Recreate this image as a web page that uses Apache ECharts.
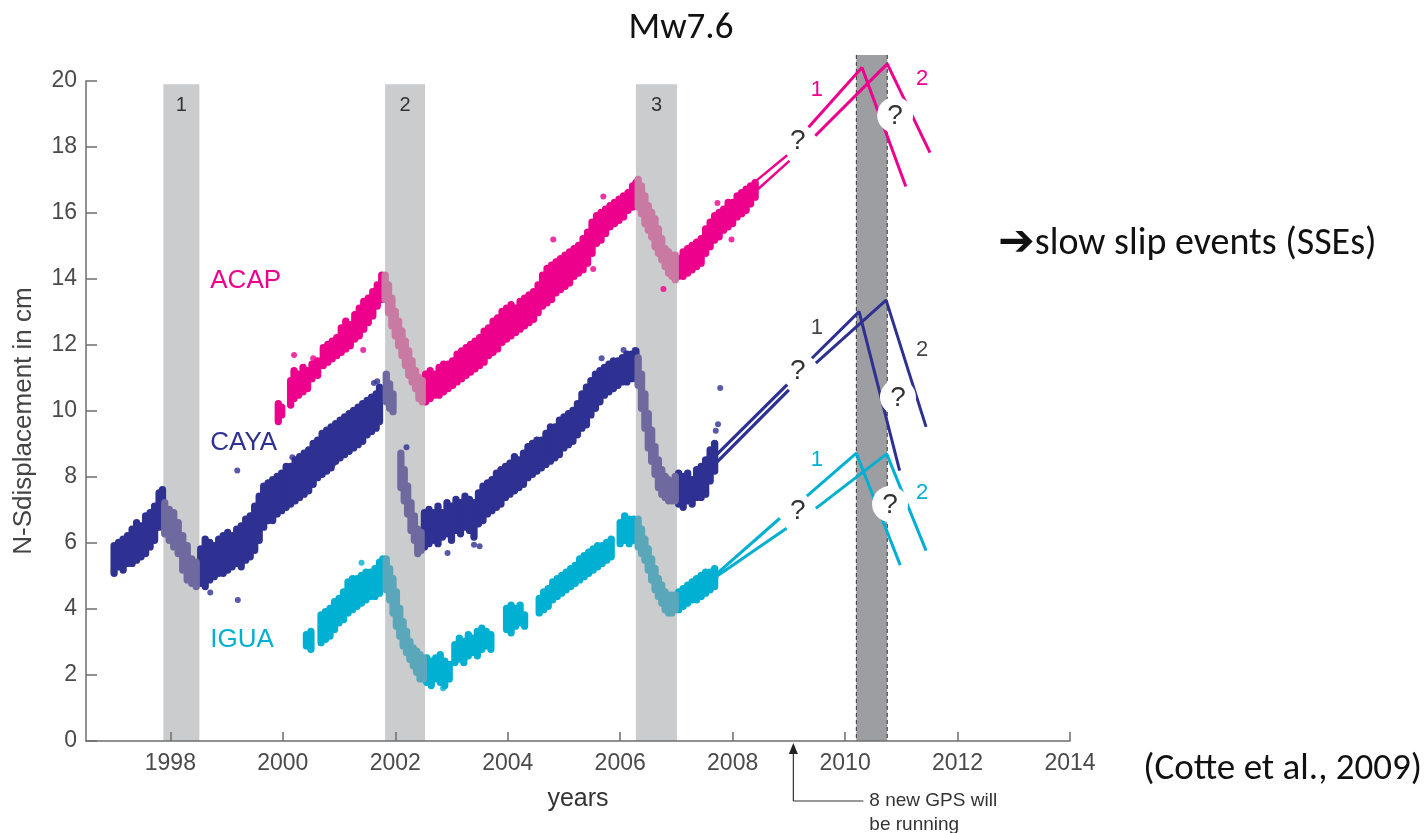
<!DOCTYPE html>
<html>
<head>
<meta charset="utf-8">
<title>N-S displacement – ACAP, CAYA, IGUA</title>
<script src="https://cdn.jsdelivr.net/npm/echarts@6/dist/echarts.min.js"></script>
<style>
  html, body { margin: 0; padding: 0; background: #fff; }
  #chart { width: 1428px; height: 833px; }
</style>
</head>
<body>
<div id="chart"></div>
<script>
// ---- axis ticks ----
const yearTicks = [1998, 2000, 2002, 2004, 2006, 2008, 2010, 2012, 2014];

// ---- slow slip windows [start, end, label] and the forecast window ----
const slipWindows = [[1997.876, 1998.516, '1'], [2001.82, 2002.53, '2'], [2006.28, 2007.01, '3']];
const forecastWindow = [[2010.20, 2010.75]];

// ---- GPS station clouds: [year, low cm, high cm] ----
const cayaTrend = [
  [1997.00,5.0,6.0],[1997.08,5.2,6.1],[1997.16,5.1,6.2],[1997.24,5.3,6.3],[1997.32,5.3,6.5],
  [1997.40,5.4,6.7],[1997.48,5.5,6.6],[1997.56,5.6,6.9],[1997.64,5.8,7.0],[1997.72,6.0,7.2],
  [1997.80,6.4,7.6],[1997.86,6.5,7.7],
  [1998.54,4.7,5.9],[1998.62,4.6,6.2],[1998.70,4.8,6.1],[1998.78,4.9,6.0],[1998.86,5.0,6.2],
  [1998.94,5.0,6.3],[1999.02,5.1,6.4],[1999.10,5.2,6.3],[1999.18,5.3,6.5],[1999.26,5.2,6.6],
  [1999.34,5.4,6.8],[1999.42,5.5,6.9],[1999.50,5.7,7.2],[1999.58,6.0,7.5],[1999.66,6.4,7.8],
  [1999.74,6.6,7.9],[1999.82,6.6,8.0],[1999.90,6.8,8.1],[1999.98,6.9,8.2],[2000.06,7.0,8.4],
  [2000.14,7.1,8.4],[2000.22,7.2,8.6],[2000.30,7.3,8.7],[2000.38,7.4,8.8],[2000.46,7.5,8.9],
  [2000.54,7.7,9.1],[2000.62,7.9,9.2],[2000.70,8.0,9.4],[2000.78,8.1,9.5],[2000.86,8.2,9.6],
  [2000.94,8.4,9.7],[2001.02,8.5,9.8],[2001.10,8.6,9.9],[2001.18,8.7,10.0],[2001.26,8.8,10.1],
  [2001.34,8.9,10.2],[2001.42,9.0,10.3],[2001.50,9.2,10.4],[2001.58,9.3,10.5],[2001.66,9.4,10.6],
  [2001.72,9.6,10.8],
  [2002.52,5.8,7.0],[2002.60,5.9,7.1],[2002.68,6.0,7.0],[2002.76,5.9,7.2],[2002.84,6.1,7.0],
  [2002.92,6.2,7.3],[2003.00,6.0,7.2],[2003.08,6.3,7.4],[2003.16,6.2,7.3],[2003.24,6.4,7.5],
  [2003.32,6.3,7.4],[2003.40,6.1,7.3],[2003.48,6.5,7.6],[2003.56,6.6,7.8],[2003.64,6.8,7.9],
  [2003.72,6.9,8.0],[2003.80,7.0,8.2],[2003.88,7.1,8.3],[2003.96,7.3,8.4],[2004.04,7.4,8.5],
  [2004.12,7.5,8.7],[2004.20,7.6,8.6],[2004.28,7.7,8.8],[2004.36,7.9,9.0],[2004.44,8.0,9.1],
  [2004.52,8.1,9.2],[2004.60,8.2,9.2],[2004.68,8.3,9.4],[2004.76,8.4,9.6],[2004.84,8.5,9.6],
  [2004.92,8.6,9.8],[2005.00,8.8,9.9],[2005.08,8.9,10.0],[2005.16,9.0,10.1],[2005.24,9.2,10.3],
  [2005.32,9.4,10.6],[2005.40,9.5,10.8],[2005.48,9.8,11.0],[2005.56,10.0,11.2],[2005.64,10.2,11.3],
  [2005.72,10.4,11.4],[2005.80,10.5,11.5],[2005.88,10.6,11.6],[2005.96,10.7,11.6],[2006.04,10.8,11.7],
  [2006.12,10.8,11.8],[2006.20,10.9,11.8],[2006.28,10.9,11.9],
  [2007.04,7.1,8.2],[2007.12,7.0,8.1],[2007.20,7.2,8.2],[2007.28,7.1,8.0],[2007.36,7.3,8.3],
  [2007.44,7.3,8.4],[2007.52,7.4,8.6],[2007.60,7.8,8.9],[2007.68,8.1,9.1]
];
const cayaSlip = [
  [1997.90,6.2,7.3],[1997.98,6.0,7.1],[1998.06,5.8,7.0],[1998.14,5.6,6.7],[1998.22,5.1,6.3],
  [1998.30,4.8,6.0],[1998.38,4.7,5.6],[1998.46,4.6,5.5],
  [2001.84,10.2,11.2],[2001.90,10.0,10.9],[2001.96,9.9,10.6],
  [2002.10,7.6,8.8],[2002.16,7.2,8.3],[2002.22,6.8,7.8],[2002.28,6.3,7.3],[2002.34,6.0,6.9],
  [2002.40,5.6,6.5],[2002.46,5.7,6.4],
  [2006.32,10.7,11.7],[2006.38,10.0,11.2],[2006.44,9.4,10.6],[2006.50,8.8,10.0],[2006.56,8.4,9.5],
  [2006.62,8.0,9.0],[2006.68,7.6,8.6],[2006.74,7.4,8.3],[2006.80,7.3,8.1],[2006.86,7.2,8.0],
  [2006.92,7.2,7.9],[2006.98,7.2,8.1]
];
const cayaSpots = [
  [1998.71,4.5],[1999.20,4.27],[1999.19,8.2],[2000.17,8.6],[2000.90,8.4],[2001.62,10.85],
  [2001.68,10.9],[2002.20,8.9],[2002.93,5.7],[2003.40,5.95],[2003.50,5.9],[2005.67,11.6],
  [2006.06,11.85],[2006.26,11.85],[2007.78,10.7],[2007.74,9.6],[2007.70,9.4]
];

const acapTrend = [
  [1999.92,9.6,10.3],[1999.98,9.8,10.2],
  [2000.14,10.1,11.0],[2000.20,10.3,11.3],[2000.28,10.4,11.2],[2000.36,10.5,11.4],[2000.44,10.6,11.3],
  [2000.52,10.9,11.5],[2000.62,11.0,11.6],[2000.72,11.3,12.0],[2000.80,11.4,12.1],[2000.88,11.5,12.2],
  [2000.96,11.6,12.3],[2001.04,11.7,12.6],[2001.12,11.8,12.8],[2001.20,11.9,12.7],[2001.28,12.1,13.0],
  [2001.36,12.2,13.2],[2001.44,12.4,13.4],[2001.52,12.6,13.5],[2001.60,12.8,13.7],[2001.68,13.1,13.9],
  [2001.76,13.3,14.2],
  [2002.54,10.2,11.2],[2002.62,10.3,11.3],[2002.70,10.4,11.2],[2002.78,10.4,11.4],[2002.86,10.5,11.5],
  [2002.94,10.6,11.5],[2003.02,10.7,11.6],[2003.10,10.8,11.8],[2003.18,10.9,11.9],[2003.26,11.0,12.0],
  [2003.34,11.1,12.1],[2003.42,11.2,12.2],[2003.50,11.3,12.3],[2003.58,11.4,12.5],[2003.66,11.6,12.6],
  [2003.74,11.7,12.8],[2003.82,11.8,12.9],[2003.90,12.0,13.1],[2003.98,12.1,13.2],[2004.06,12.2,13.3],
  [2004.14,12.3,13.2],[2004.22,12.4,13.4],[2004.30,12.5,13.5],[2004.38,12.6,13.6],[2004.46,12.7,13.7],
  [2004.54,12.9,13.9],[2004.62,13.1,14.2],[2004.70,13.2,14.4],[2004.78,13.3,14.5],[2004.86,13.5,14.6],
  [2004.94,13.6,14.7],[2005.02,13.7,14.8],[2005.10,13.8,14.9],[2005.18,14.0,15.0],[2005.26,14.1,15.1],
  [2005.34,14.2,15.3],[2005.42,14.4,15.5],[2005.50,14.7,15.8],[2005.58,15.0,16.0],[2005.66,15.1,16.1],
  [2005.74,15.3,16.2],[2005.82,15.5,16.3],[2005.90,15.6,16.4],[2005.98,15.7,16.5],[2006.06,15.8,16.6],
  [2006.14,16.0,16.7],[2006.22,16.1,16.9],[2006.28,16.2,17.0],
  [2007.04,14.0,14.7],[2007.12,14.0,14.9],[2007.20,14.1,15.0],[2007.28,14.2,15.1],[2007.36,14.3,15.2],
  [2007.44,14.4,15.3],[2007.52,14.7,15.6],[2007.60,14.9,15.8],[2007.68,15.1,16.0],[2007.76,15.2,16.1],
  [2007.84,15.4,16.2],[2007.92,15.5,16.4],[2008.00,15.6,16.4],[2008.08,15.8,16.6],[2008.16,15.9,16.7],
  [2008.24,16.0,16.8],[2008.32,16.2,16.9],[2008.40,16.4,17.0]
];
const acapSlip = [
  [2001.82,13.3,14.2],[2001.88,12.9,13.9],[2001.94,12.5,13.5],[2002.00,12.2,13.1],[2002.06,11.9,12.8],
  [2002.12,11.6,12.5],[2002.18,11.3,12.2],[2002.24,11.0,11.9],[2002.30,10.8,11.6],[2002.36,10.6,11.3],
  [2002.42,10.3,11.1],[2002.48,10.2,11.0],
  [2006.32,16.1,17.1],[2006.38,15.9,16.9],[2006.44,15.6,16.6],[2006.50,15.4,16.3],[2006.56,15.2,16.1],
  [2006.62,14.9,15.9],[2006.68,14.7,15.6],[2006.74,14.5,15.3],[2006.80,14.3,15.0],[2006.86,14.1,14.9],
  [2006.92,14.0,14.8],[2006.98,13.9,14.8]
];
const acapSpots = [
  [2000.20,11.7],[2000.54,11.6],[2001.43,11.85],[2004.81,15.2],[2005.52,14.3],[2005.70,16.5],
  [2006.77,13.7],[2007.73,16.3],[2007.98,15.2]
];

const iguaTrend = [
  [2000.42,2.8,3.3],[2000.50,2.7,3.4],
  [2000.68,2.9,3.9],[2000.76,3.0,4.0],[2000.84,3.1,4.1],[2000.92,3.3,4.3],[2001.00,3.5,4.4],
  [2001.08,3.6,4.6],[2001.16,3.8,4.9],[2001.24,3.9,5.0],[2001.32,4.0,5.0],[2001.40,4.1,5.1],
  [2001.48,4.2,5.2],[2001.56,4.3,5.2],[2001.64,4.3,5.3],[2001.72,4.4,5.5],[2001.78,4.6,5.6],
  [2002.56,1.7,2.6],[2002.64,1.6,2.5],[2002.72,1.8,2.6],[2002.80,1.7,2.7],[2002.88,1.6,2.5],
  [2002.96,1.8,2.4],
  [2003.06,2.3,3.0],[2003.14,2.4,3.2],[2003.22,2.3,3.1],[2003.30,2.5,3.3],[2003.38,2.6,3.2],
  [2003.46,2.5,3.4],[2003.54,2.7,3.5],[2003.62,2.8,3.4],[2003.70,2.7,3.3],
  [2003.98,3.3,4.1],[2004.06,3.2,4.2],[2004.14,3.4,4.1],[2004.22,3.5,4.2],[2004.30,3.4,3.9],
  [2004.56,3.8,4.4],[2004.64,3.9,4.6],[2004.72,4.0,4.7],[2004.80,4.2,4.9],[2004.88,4.3,5.0],
  [2004.96,4.4,5.1],[2005.04,4.5,5.2],[2005.12,4.6,5.3],[2005.20,4.7,5.4],[2005.28,4.8,5.6],
  [2005.36,4.9,5.7],[2005.44,5.0,5.8],[2005.52,5.1,5.9],[2005.60,5.2,6.0],[2005.68,5.3,6.0],
  [2005.76,5.4,6.1],[2005.84,5.5,6.2],
  [2006.00,5.9,6.7],[2006.08,6.0,6.9],[2006.16,5.9,6.8],[2006.24,6.0,6.8],
  [2007.04,3.9,4.6],[2007.12,4.0,4.7],[2007.20,4.1,4.8],[2007.28,4.2,4.9],[2007.36,4.2,5.0],
  [2007.44,4.3,5.1],[2007.52,4.4,5.2],[2007.60,4.5,5.2],[2007.68,4.6,5.3]
];
const iguaSlip = [
  [2001.84,4.5,5.6],[2001.90,4.2,5.3],[2001.96,3.8,5.0],[2002.02,3.4,4.6],[2002.08,3.1,4.1],
  [2002.14,2.8,3.7],[2002.20,2.6,3.4],[2002.26,2.4,3.1],[2002.32,2.2,2.9],[2002.38,2.0,2.8],
  [2002.44,1.8,2.7],[2002.50,1.8,2.6],
  [2006.32,5.8,6.8],[2006.38,5.6,6.5],[2006.44,5.4,6.2],[2006.50,5.1,5.9],[2006.56,4.8,5.6],
  [2006.62,4.5,5.3],[2006.68,4.3,5.0],[2006.74,4.1,4.8],[2006.80,3.9,4.6],[2006.86,3.8,4.5],
  [2006.92,3.8,4.5],[2006.98,3.9,4.5]
];
const iguaSpots = [[2001.40,5.4],[2002.85,1.6]];

// ---- projected paths: lead-in from the data, then scenario 1 and scenario 2 ----
const acapLeadA = [[2008.40,16.95],[2008.97,17.75]];
const acapLeadB = [[2008.45,16.72],[2009.01,17.58]];
const acapPath1 = [[2009.35,18.60],[2010.30,20.41],[2011.08,16.80]];
const acapPath2 = [[2009.47,18.34],[2010.75,20.52],[2011.51,17.83]];

const cayaLeadA = [[2007.64,8.55],[2008.97,10.80]];
const cayaLeadB = [[2007.68,8.38],[2009.00,10.64]];
const cayaPath1 = [[2009.41,11.60],[2010.25,13.01],[2010.97,8.19]];
const cayaPath2 = [[2009.48,11.45],[2010.73,13.36],[2011.44,9.52]];

const iguaLeadA = [[2007.64,4.95],[2008.84,6.75]];
const iguaLeadB = [[2007.64,4.90],[2008.96,6.45]];
const iguaPath1 = [[2009.32,7.42],[2010.20,8.72],[2010.98,5.33]];
const iguaPath2 = [[2009.48,7.05],[2010.74,8.70],[2011.44,5.77]];

// ---- question marks, scenario tags, station names ----
const askOpen = [[2009.16,18.21],[2009.16,11.24],[2009.16,7.00]];
const askMasked = [[2010.89,18.97],[2010.94,10.42],[2010.80,7.18]];
const tagSpots = [[2009.50,19.73],[2011.37,20.06],[2009.50,12.52],[2011.37,11.85],[2009.50,8.52],[2011.37,7.52]];
const tagTexts = ['1','2','1','2','1','2'];
const stationNames = ['ACAP','CAYA','IGUA'];
const stationSpots = [[1998.71,13.94],[1998.71,9.03],[1998.71,3.06]];

// ---- new GPS network start ----
const gpsStart = [[2009.08, 0]];

// ---- styling ----
const SANS = '"Liberation Sans", Arial, Helvetica, sans-serif';
const SLIDE = 'Carlito, Lato, "DejaVu Sans", sans-serif';
const stationMain = ['#ec008c', '#2e3192', '#00b0d2'];
const stationSoft = ['#c97aa3', '#6e6a9f', '#5aa7ba'];
const tagColors = ['#ec008c', '#444444', '#00b0d2'];

// each sample is drawn as a rounded capsule spanning its low..high range
function cloudRenderer(color) {
  return function (params, api) {
    const x = api.value(0);
    const a = api.coord([x - 0.065, api.value(2)]);
    const b = api.coord([x + 0.065, api.value(1)]);
    const w = b[0] - a[0];
    return {
      type: 'rect',
      shape: { x: a[0], y: a[1] - 1, width: w, height: b[1] - a[1] + 2, r: w / 2 },
      style: { fill: color }
    };
  };
}

const series = [];

// slip windows (light grey) with their numbers
series.push({
  type: 'custom', z: 1, silent: true,
  data: slipWindows.map(w => [w[0], w[1]]),
  encode: { x: [0, 1] },
  renderItem: function (params, api) {
    const a = api.coord([api.value(0), 19.9]);
    const b = api.coord([api.value(1), 0]);
    return {
      type: 'group',
      children: [
        { type: 'rect', shape: { x: a[0], y: a[1], width: b[0] - a[0], height: b[1] - a[1] },
          style: { fill: '#cbccce' } },
        { type: 'text', x: (a[0] + b[0]) / 2, y: a[1] + 21,
          style: { text: slipWindows[params.dataIndex][2], font: '20px ' + SANS, fill: '#333',
                   align: 'center', verticalAlign: 'middle' } }
      ]
    };
  }
});

// forecast window (dark grey, dashed edges)
series.push({
  type: 'custom', z: 1, silent: true,
  data: forecastWindow,
  encode: { x: [0, 1] },
  renderItem: function (params, api) {
    const a = api.coord([api.value(0), 20.79]);
    const b = api.coord([api.value(1), 0]);
    const dash = { stroke: '#333', lineWidth: 1, lineDash: [4, 3] };
    return {
      type: 'group',
      children: [
        { type: 'rect', shape: { x: a[0], y: a[1], width: b[0] - a[0], height: b[1] - a[1] },
          style: { fill: '#9d9ea2' } },
        { type: 'line', shape: { x1: a[0], y1: a[1], x2: a[0], y2: b[1] }, style: dash },
        { type: 'line', shape: { x1: b[0], y1: a[1], x2: b[0], y2: b[1] }, style: dash }
      ]
    };
  }
});

// station clouds
const clouds = [
  [cayaTrend, cayaSlip, cayaSpots, 1],
  [acapTrend, acapSlip, acapSpots, 0],
  [iguaTrend, iguaSlip, iguaSpots, 2]
];
clouds.forEach(function (c) {
  const k = c[3];
  series.push({ type: 'custom', z: 2, silent: true, data: c[0], encode: { x: 0, y: [1, 2] },
                renderItem: cloudRenderer(stationMain[k]) });
  series.push({ type: 'custom', z: 2, silent: true, data: c[1], encode: { x: 0, y: [1, 2] },
                renderItem: cloudRenderer(stationSoft[k]) });
  series.push({ type: 'scatter', z: 2, silent: true, data: c[2], symbolSize: 6,
                itemStyle: { color: stationMain[k] } });
});

// projected paths
const paths = [
  [acapLeadA, 0, 2.4], [acapLeadB, 0, 2.4], [acapPath1, 0, 3], [acapPath2, 0, 3],
  [cayaLeadA, 1, 3.2], [cayaLeadB, 1, 3.2], [cayaPath1, 1, 3], [cayaPath2, 1, 3],
  [iguaLeadA, 2, 3], [iguaLeadB, 2, 3], [iguaPath1, 2, 3], [iguaPath2, 2, 3]
];
paths.forEach(function (p) {
  series.push({
    type: 'line', z: 3, silent: true, clip: false, data: p[0], symbol: 'none',
    lineStyle: { color: stationMain[p[1]], width: p[2], cap: 'butt' }
  });
});

// question marks
function askRenderer(masked) {
  return function (params, api) {
    const p = api.coord([api.value(0), api.value(1)]);
    const children = [];
    if (masked) {
      children.push({ type: 'circle', shape: { cx: p[0], cy: p[1], r: 18 }, style: { fill: '#fff' } });
    }
    children.push({ type: 'text', x: p[0], y: p[1] + 1,
      style: { text: '?', font: '28px ' + SANS, fill: '#333', align: 'center', verticalAlign: 'middle' } });
    return { type: 'group', children: children };
  };
}
series.push({ type: 'custom', z: 4, silent: true, data: askOpen, encode: { x: 0, y: 1 }, renderItem: askRenderer(false) });
series.push({ type: 'custom', z: 4, silent: true, data: askMasked, encode: { x: 0, y: 1 }, renderItem: askRenderer(true) });

// scenario tags
series.push({
  type: 'custom', z: 5, silent: true, data: tagSpots, encode: { x: 0, y: 1 },
  renderItem: function (params, api) {
    const p = api.coord([api.value(0), api.value(1)]);
    return { type: 'text', x: p[0], y: p[1],
      style: { text: tagTexts[params.dataIndex], font: '22px ' + SANS,
               fill: tagColors[Math.floor(params.dataIndex / 2)], align: 'center', verticalAlign: 'middle' } };
  }
});

// station names
series.push({
  type: 'custom', z: 5, silent: true, data: stationSpots, encode: { x: 0, y: 1 },
  renderItem: function (params, api) {
    const p = api.coord([api.value(0), api.value(1)]);
    return { type: 'text', x: p[0], y: p[1],
      style: { text: stationNames[params.dataIndex], font: '26px ' + SANS,
               fill: stationMain[params.dataIndex], align: 'left', verticalAlign: 'middle' } };
  }
});

// arrow marking the start of the new GPS network
series.push({
  type: 'custom', z: 5, silent: true, data: gpsStart, encode: { x: 0, y: 1 },
  renderItem: function (params, api) {
    const p = api.coord([api.value(0), api.value(1)]);
    const x = p[0], y = p[1];
    const ink = { stroke: '#333', lineWidth: 1.2 };
    const note = { font: '19px ' + SANS, fill: '#333', align: 'left', verticalAlign: 'middle' };
    return {
      type: 'group',
      children: [
        { type: 'polygon', shape: { points: [[x, y + 2], [x - 4.5, y + 13], [x + 4.5, y + 13]] }, style: { fill: '#222' } },
        { type: 'line', shape: { x1: x, y1: y + 12, x2: x, y2: y + 60 }, style: ink },
        { type: 'line', shape: { x1: x, y1: y + 60, x2: x + 70, y2: y + 60 }, style: ink },
        { type: 'text', x: x + 76, y: y + 60, style: Object.assign({ text: '8 new GPS will' }, note) },
        { type: 'text', x: x + 76, y: y + 84, style: Object.assign({ text: 'be running' }, note) }
      ]
    };
  }
});

const option = {
  animation: false,
  backgroundColor: '#ffffff',
  title: {
    text: 'Mw7.6', left: 676, top: 5, textAlign: 'center',
    textStyle: { fontSize: 37, fontWeight: 'normal', fontFamily: SLIDE, color: '#111' }
  },
  grid: { left: 86, top: 81, width: 984, height: 660 },
  xAxis: {
    type: 'value', min: 1996.5, max: 2014, z: 10,
    name: 'years', nameLocation: 'middle', nameGap: 46,
    nameTextStyle: { fontSize: 25, color: '#333', fontFamily: SANS },
    axisLine: { show: true, onZero: false, lineStyle: { color: '#6d6d6d', width: 1.5 } },
    axisTick: { show: true, inside: true, length: 9, customValues: yearTicks, lineStyle: { color: '#6d6d6d', width: 1.5 } },
    axisLabel: { customValues: yearTicks, margin: 11, fontSize: 23, color: '#4a4a4a', fontFamily: SANS,
                 formatter: function (v) { return String(v); } },
    splitLine: { show: false }
  },
  yAxis: {
    type: 'value', min: 0, max: 20, interval: 2, z: 10,
    axisLine: { show: true, onZero: false, lineStyle: { color: '#6d6d6d', width: 1.5 } },
    axisTick: { show: true, inside: true, length: 11, lineStyle: { color: '#6d6d6d', width: 1.5 } },
    axisLabel: { margin: 9, fontSize: 23, color: '#4a4a4a', fontFamily: SANS },
    splitLine: { show: false }
  },
  graphic: [
    { type: 'text', x: 24, y: 421, rotation: Math.PI / 2,
      style: { text: 'N-Sdisplacement in cm', font: '26px ' + SANS, fill: '#444', align: 'center', verticalAlign: 'middle' } },
    { type: 'text', x: 998, y: 244,
      style: {
        text: '{a|\u2794}{t|slow slip events (SSEs)}', align: 'left', verticalAlign: 'middle',
        rich: {
          a: { fontSize: 44, fontFamily: '"DejaVu Sans", sans-serif', fontWeight: 'bold', fill: '#111' },
          t: { fontSize: 38, fontFamily: SLIDE, fill: '#111' }
        }
      } },
    { type: 'text', x: 1422, y: 770,
      style: { text: '(Cotte et al., 2009)', font: '37px ' + SLIDE, fill: '#111', align: 'right', verticalAlign: 'middle' } }
  ],
  series: series
};

const chart = echarts.init(document.getElementById('chart'), null, { renderer: 'canvas' });
chart.setOption(option);
</script>
</body>
</html>
